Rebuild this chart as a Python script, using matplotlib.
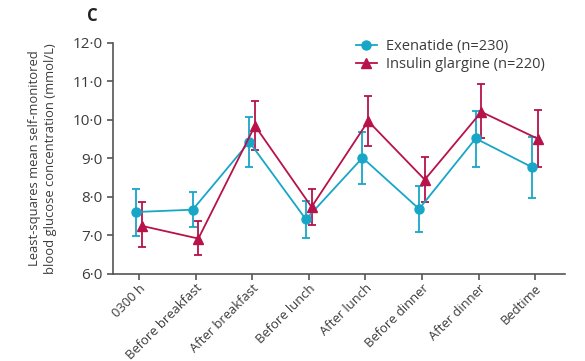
import matplotlib.pyplot as plt
import numpy as np

# momentos de medida de glucosa
momentos = ["0300 h", "Before breakfast", "After breakfast", "Before lunch",
            "After lunch", "Before dinner", "After dinner", "Bedtime"]

# exenatide: media y limites de la barra de error
exe_media = [7.61, 7.67, 9.43, 7.42, 9.02, 7.69, 9.52, 8.77]
exe_bajo = [6.98, 7.22, 8.77, 6.94, 8.35, 7.08, 8.79, 7.98]
exe_alto = [8.22, 8.12, 10.09, 7.90, 9.70, 8.28, 10.24, 9.56]

# insulina glargina
gla_media = [7.25, 6.92, 9.85, 7.74, 9.97, 8.45, 10.21, 9.51]
gla_bajo = [6.69, 6.50, 9.22, 7.28, 9.33, 7.88, 9.52, 8.78]
gla_alto = [7.87, 7.37, 10.48, 8.20, 10.63, 9.03, 10.93, 10.26]

yticks = [6, 7, 8, 9, 10, 11, 12]

azul = "#18a6c8"
rojo = "#b8124a"
gris = "#3c3c3c"

plt.rcParams['font.family'] = ['Open Sans', 'DejaVu Sans']

fig = plt.figure(figsize=(5.85, 3.61), dpi=100)
ax = fig.add_axes([0.193, 0.241, 0.773, 0.640])

x = np.arange(len(momentos))
d = 0.05  # pequeño desplazamiento para que no se tapen las barras

def serie(xs, media, bajo, alto, color, marca):
    media = np.array(media)
    err = [media - np.array(bajo), np.array(alto) - media]
    return ax.errorbar(xs, media, yerr=err, color=color, marker=marca,
                       markersize=6.5, linewidth=1.3, elinewidth=1.3, capsize=3,
                       capthick=1.3, clip_on=False)

e1 = serie(x - d, exe_media, exe_bajo, exe_alto, azul, "o")
e2 = serie(x + d, gla_media, gla_bajo, gla_alto, rojo, "^")

ax.set_xlim(-0.46, 7.53)
ax.set_ylim(6, 12)
ax.set_yticks(yticks)
ax.set_yticklabels([f"{v}·0" for v in yticks])
ax.set_xticks(x)
ax.set_xticklabels(momentos, rotation=45, ha="right", rotation_mode="anchor")

for lado in ["top", "right"]:
    ax.spines[lado].set_visible(False)
for lado in ["left", "bottom"]:
    ax.spines[lado].set_color("#555555")
    ax.spines[lado].set_linewidth(1.2)
ax.tick_params(axis="both", colors="#555555", labelcolor=gris, length=4, width=1.2)
ax.tick_params(axis="y", labelsize=11)
ax.tick_params(axis="x", labelsize=9.4, pad=1.5)

ax.set_ylabel("Least-squares mean self-monitored\nblood glucose concentration (mmol/L)",
              fontsize=9.4, color=gris, labelpad=11, linespacing=1.35)

# leyenda solo con linea y marcador, sin barras de error
ax.legend([e1[0], e2[0]], ["Exenatide (n=230)", "Insulin glargine (n=220)"],
          loc="upper left", bbox_to_anchor=(0.514, 1.06),
          frameon=False, fontsize=10.5, labelcolor=gris, handlelength=1.5,
          handletextpad=0.6, borderpad=0.2, labelspacing=0.2)

fig.text(0.157, 0.955, "C", fontsize=12, fontweight="bold", color="#222222",
         ha="center", va="center")

fig.savefig("out.png", dpi=100)
